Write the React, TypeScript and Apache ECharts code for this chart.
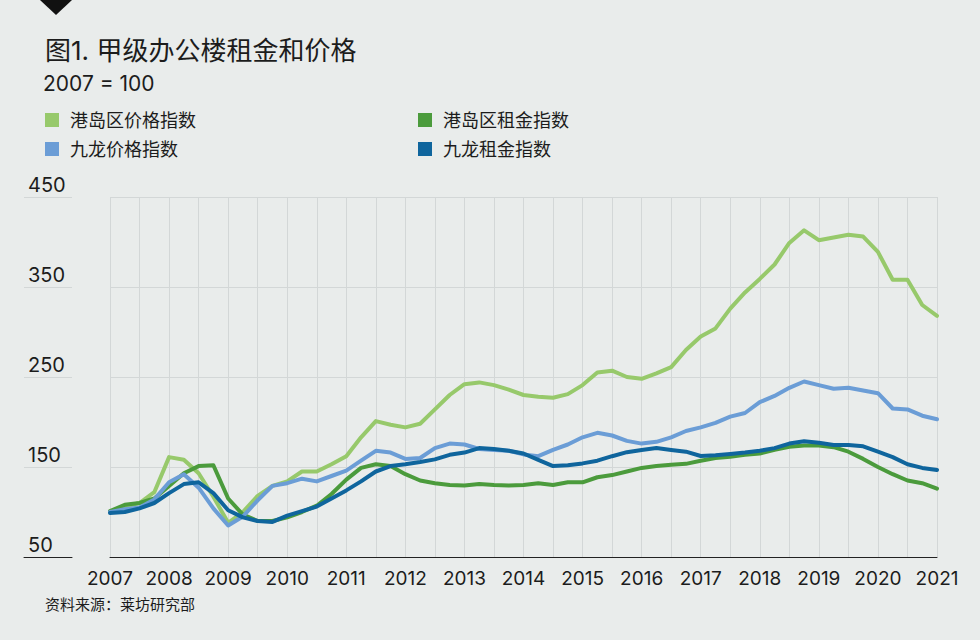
import React, { useEffect, useRef } from "react";
import * as echarts from "echarts";

const years = [2007, 2008, 2009, 2010, 2011, 2012, 2013, 2014, 2015, 2016, 2017, 2018, 2019, 2020, 2021];
const quarters: string[] = years.flatMap((y) =>
  y === 2021 ? [`${y}Q1`] : ["Q1", "Q2", "Q3", "Q4"].map((q) => `${y}${q}`)
);

const seriesNames = ["港岛区价格指数", "港岛区租金指数", "九龙价格指数", "九龙租金指数"];
const seriesColors = ["#97c96b", "#4b9b3c", "#6b9dd6", "#0f659d"];

const hkPrice = [100, 106, 110, 122, 161, 158, 143, 117, 88, 100, 118, 129, 134, 145, 145, 153, 162, 183, 201, 197, 194, 198, 214, 230, 242, 244, 241, 236, 230, 228, 227, 231, 241, 255, 257, 250, 248, 254, 261, 280, 295, 304, 326, 344, 359, 375, 399, 413, 402, 405, 408, 406, 389, 358, 358, 330, 318];
const hkRent = [101, 108, 110, 115, 129, 143, 151, 152, 115, 97, 90, 90, 94, 100, 107, 120, 136, 149, 153, 151, 142, 135, 132, 130, 129.5, 131, 130, 129.5, 130, 132, 130, 133, 133, 138.6, 141, 145, 149, 151, 152.5, 153.5, 157, 160, 161.5, 163.5, 165, 169, 172.5, 174, 174, 172, 167, 159, 150, 142, 135, 132, 126];
const klPrice = [100, 103, 105, 114, 133, 142, 127, 104, 85, 95, 113, 129, 132, 137, 134, 140, 146, 157, 168, 166, 159, 160, 171, 176, 175, 170, 169, 168, 164, 162, 169, 175, 183, 188, 185, 179, 176, 178, 183, 190, 194, 199, 206, 210, 222, 229, 238, 245, 241, 237, 238, 235, 232, 215, 214, 207, 203];
const klRent = [99, 100, 104, 110, 121, 131, 133, 121, 102, 94, 90, 89, 96, 101, 106, 115, 124, 134, 145, 151, 153, 155.5, 158.5, 163.5, 166, 171, 170, 168, 165, 158, 151, 152, 154, 157, 162, 166.5, 169, 171, 169, 167, 162.2, 163, 164.4, 166, 168, 171, 176, 178.5, 177, 174.4, 174.4, 173, 167, 161, 153, 149, 146.7];

const yMin = 50;
const yMax = 450;
const yStep = 100;

const titleText = "图1. 甲级办公楼租金和价格";
const subtitleText = "2007 = 100";
const sourceText = "资料来源：莱坊研究部";

const FONT = "Inter, 'Noto Sans CJK SC', sans-serif";
const TEXT = "#1c1c1c";
const GRID = "#d3d7d7";
const BG = "#e9eceb";

export default function App() {
  const ref = useRef<HTMLDivElement>(null);
  useEffect(() => {
    if (!ref.current) return;
    const chart = echarts.init(ref.current, undefined, { renderer: "svg" });
    const values = [hkPrice, hkRent, klPrice, klRent];
    chart.setOption({
      animation: false,
      backgroundColor: BG,
      textStyle: { fontFamily: FONT },
      title: [
        { text: titleText, left: 40, top: 32, textStyle: { fontSize: 26, fontWeight: "normal", color: TEXT, fontFamily: FONT } },
        { text: subtitleText, left: 38, top: 68, textStyle: { fontSize: 21, fontWeight: "normal", color: TEXT, fontFamily: FONT } },
        { text: sourceText, left: 40, top: 592, textStyle: { fontSize: 15, fontWeight: "normal", color: TEXT, fontFamily: FONT } },
      ],
      graphic: [
        { type: "polygon", shape: { points: [[40, 0], [72, 0], [56, 15]] }, style: { fill: "#111" } },
      ],
      legend: [
        {
          data: [seriesNames[0], seriesNames[2]],
          left: 40, top: 106, orient: "vertical",
          icon: "rect", itemWidth: 14, itemHeight: 14, itemGap: 11,
          textStyle: { fontSize: 18, color: TEXT, lineHeight: 18, padding: [0, 0, 0, 6], fontFamily: FONT },
        },
        {
          data: [seriesNames[1], seriesNames[3]],
          left: 413, top: 106, orient: "vertical",
          icon: "rect", itemWidth: 14, itemHeight: 14, itemGap: 11,
          textStyle: { fontSize: 18, color: TEXT, lineHeight: 18, padding: [0, 0, 0, 6], fontFamily: FONT },
        },
      ],
      grid: [
        { left: 110, top: 197, width: 827, height: 360, containLabel: false },
        { left: 24, top: 197, width: 48, height: 360, containLabel: false },
      ],
      xAxis: [
        {
          type: "category", gridIndex: 0, data: quarters, boundaryGap: false,
          axisLine: { show: true, lineStyle: { color: "#222", width: 1 } },
          axisTick: { show: false },
          axisLabel: {
            interval: 3, margin: 12, fontSize: 19, color: TEXT, fontFamily: FONT,
            formatter: (v: string) => v.slice(0, 4),
          },
          splitLine: { show: true, interval: 1, lineStyle: { color: GRID, width: 1 } },
        },
        {
          type: "value", gridIndex: 1, min: 0, max: 1,
          axisLine: { show: true, onZero: false, lineStyle: { color: "#222", width: 1 } },
          axisTick: { show: false }, axisLabel: { show: false }, splitLine: { show: false },
        },
      ],
      yAxis: [
        {
          type: "value", gridIndex: 0, min: yMin, max: yMax, interval: yStep,
          axisLine: { show: false }, axisTick: { show: false }, axisLabel: { show: false },
          splitLine: { show: true, lineStyle: { color: GRID, width: 1 } },
        },
        {
          type: "value", gridIndex: 1, min: yMin, max: yMax, interval: yStep,
          axisLine: { show: false }, axisTick: { show: false },
          axisLabel: {
            inside: true, margin: 4, align: "left", verticalAlign: "bottom",
            fontSize: 20, color: TEXT, fontFamily: FONT, padding: [0, 0, 2, 0],
          },
          splitLine: { show: true, lineStyle: { color: GRID, width: 1 } },
        },
      ],
      series: seriesNames.map((name, i) => ({
        name, type: "line", xAxisIndex: 0, yAxisIndex: 0,
        data: values[i], showSymbol: false, symbol: "none",
        color: seriesColors[i],
        lineStyle: { width: 4, color: seriesColors[i], join: "round", cap: "round" },
        z: 2 + i,
      })),
    });
    return () => chart.dispose();
  }, []);
  return (
    <div
      ref={ref}
      style={{ position: "absolute", left: 0, top: 0, width: 980, height: 640 }}
    />
  );
}
